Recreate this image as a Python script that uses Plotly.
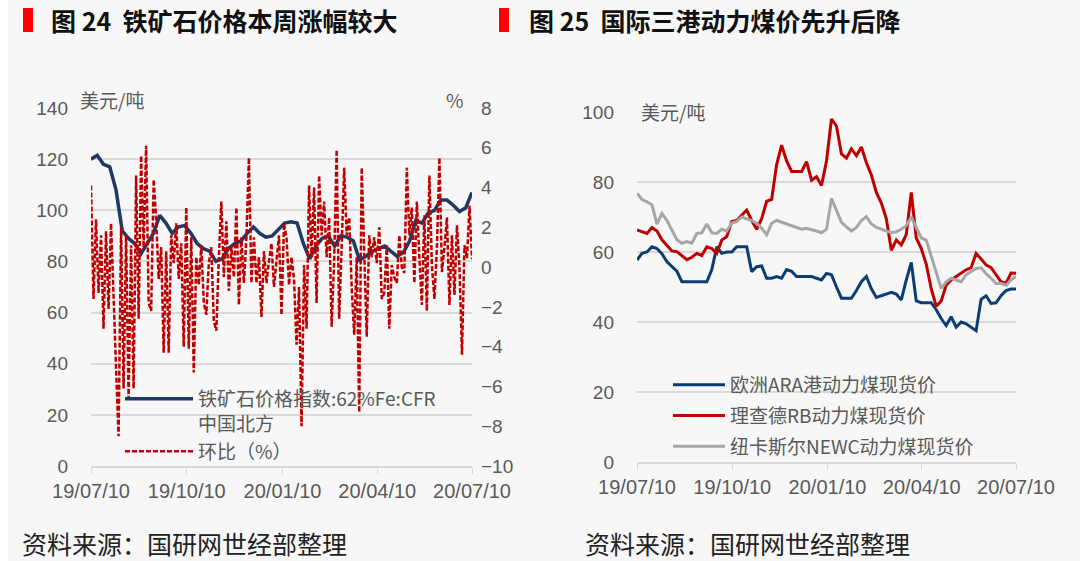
import plotly.graph_objects as go
import pandas as pd

# ---- data: 图24 铁矿石价格 (美元/吨, 左轴) 与 环比 (%, 右轴) ----
iron_price = [120, 121.5, 118, 117, 108, 92, 89, 87, 83, 87,
              91, 98, 95, 91, 93.5, 94, 91, 87, 85, 84,
              80, 81, 85, 87, 88, 91, 93.5, 91, 89.5, 90,
              92.5, 95, 95.5, 95, 87, 81, 86, 89, 90, 86,
              90, 89.5, 88, 80.5, 82, 84, 85, 86, 84, 82,
              83.5, 88, 96, 95, 99, 100, 104, 104, 102, 99.5,
              101, 107]

iron_mom = [4.1, -1.6, 2.4, -1.3, 1.6, -3.1, 1.8, -2.1, 2.2, -1.0,
            -5.1, -8.5, 2.0, -6.1, 1.6, -6.6, 1.1, -6.1, 4.6, -2.6,
            5.6, 1.0, 6.1, -1.8, -2.2, 4.4, 2.4, -0.6, 1.0, -4.3,
            0.8, -4.3, 1.6, 0.2, 2.2, -0.6, 1.2, -4.0, 3.0, -4.1,
            1.5, -5.3, 0.5, -0.9, 1.1, -1.8, -2.4, 0.2, 1.0, -2.7,
            -3.2, 0.5, 3.3, -0.5, 2.3, -1.2, 1.0, -0.5, 3.0, -1.9,
            1.5, -0.8, 1.5, 5.5, -0.8, 1.5, -0.8, 0.5, -2.5, 0.8,
            -0.8, 0.3, 1.2, -1.0, 0.5, 1.6, -2.4, 2.2, 1.5, -0.9,
            0.5, -0.6, -3.9, -1.0, -8.0, 0.1, -3.1, 4.1, 0.5, 4.0,
            -1.8, 4.6, 1.6, 3.3, 0.5, 2.5, -3.0, 0.3, 5.9, -2.6,
            1.0, 5.0, 1.6, 2.5, -1.0, -3.4, 0.5, -7.3, 5.0, 0.0,
            -3.5, 1.6, 0.5, 1.5, 0.2, 2.0, -1.6, -1.3, 1.1, -3.1,
            0.1, -0.5, -0.8, 1.6, 0.0, -0.3, 5.0, 1.6, 3.0, -0.8,
            3.3, 0.5, -1.9, 2.6, -2.2, 4.6, 0.1, -1.6, 1.0, 5.5,
            -0.25, 1.0, 2.5, -1.9, 1.6, -1.4, 2.1, 0.0, -4.4, 1.1,
            0.45, 3.1, 0.4]

# ---- data: 图25 三港动力煤现货价 (美元/吨) ----
coal_ara = [57.7, 59.6, 60.0, 61.5, 61.0, 59.5, 57.2, 55.8, 54.5, 51.5,
            51.5, 51.5, 51.5, 51.5, 51.5, 55.0, 61.5, 59.6, 60.0, 60.0,
            61.5, 61.5, 61.5, 54.4, 55.8, 56.0, 52.5, 52.5, 53.0, 52.5,
            55.0, 54.5, 53.0, 53.0, 53.0, 53.0, 52.5, 52.0, 53.9, 53.5,
            50.0, 46.8, 46.8, 46.8, 49.0, 51.5, 53.0, 49.5, 47.0, 47.5,
            48.2, 48.5, 48.0, 46.3, 52.0, 57.0, 46.0, 45.5, 45.5, 45.5,
            43.5, 41.0, 39.0, 41.5, 38.5, 40.0, 39.5, 38.5, 37.5, 46.5,
            47.5, 45.3, 45.5, 47.5, 49.0, 49.4, 49.4]

coal_rb = [66.3, 65.8, 65.3, 67.0, 66.0, 63.5, 62.0, 60.3, 60.1, 59.0,
           57.8, 58.5, 59.6, 59.0, 61.5, 61.0, 59.6, 63.4, 64.4, 68.7,
           69.0, 70.5, 72.0, 69.0, 66.5, 69.5, 74.5, 75.0, 85.0, 90.5,
           86.0, 83.0, 83.0, 83.0, 85.8, 80.5, 81.5, 79.0, 86.0, 98.0,
           96.0, 88.0, 86.8, 89.5, 87.5, 90.0, 85.5, 82.0, 77.0, 74.0,
           69.5, 60.5, 63.4, 62.0, 65.0, 77.0, 64.0, 61.0, 56.5, 49.5,
           44.5, 46.0, 50.5, 52.0, 53.0, 54.0, 54.9, 55.5, 59.6, 58.0,
           56.3, 55.5, 53.5, 51.5, 51.0, 54.0, 53.9]

coal_newc = [76.8, 75.0, 74.3, 73.5, 68.0, 71.0, 69.0, 66.0, 63.5, 62.5,
             63.0, 62.5, 65.3, 65.5, 68.0, 65.5, 65.3, 66.5, 66.0, 68.3,
             68.7, 70.0, 69.5, 69.0, 68.2, 66.8, 64.9, 68.2, 69.0, 68.5,
             67.8, 67.3, 67.0, 66.5, 66.8, 66.5, 66.0, 65.5, 66.5, 75.3,
             72.0, 68.5, 67.2, 66.0, 67.0, 69.0, 70.1, 68.0, 67.0, 66.5,
             66.0, 65.5, 65.8, 66.5, 67.5, 70.0, 67.0, 64.0, 63.4, 59.0,
             54.0, 49.6, 51.5, 52.5, 52.0, 51.5, 53.5, 54.5, 55.3, 55.5,
             53.8, 52.5, 51.0, 51.0, 50.5, 52.0, 53.0]

start, end = "2019-07-10", "2020-07-10"
tick_dates = ["2019-07-10", "2019-10-10", "2020-01-10", "2020-04-10", "2020-07-10"]

W, H = 1080, 561
BG = "#f7f7f7"
GRID = "#d9d9d9"
TXT = "#595959"
FONT = "Noto Sans CJK SC"
NUMFONT = "Liberation Sans, Arial"


def px_x(x):
    return x / W


def px_y(y):
    return 1 - y / H


fig = go.Figure()

# left chart
fig.add_trace(go.Scatter(
    x=pd.date_range(start, end, periods=len(iron_price)), y=iron_price,
    name="铁矿石价格指数:62%Fe:CFR<br>中国北方", mode="lines",
    line=dict(color="#1f3864", width=3.5),
    xaxis="x", yaxis="y", legend="legend"))
fig.add_trace(go.Scatter(
    x=pd.date_range(start, end, periods=len(iron_mom)), y=iron_mom,
    name="环比（%）", mode="lines",
    line=dict(color="#c00000", width=2.5, dash="5px,2px"),
    xaxis="x", yaxis="y2", legend="legend"))

# right chart
coal_dates = pd.date_range(start, end, periods=len(coal_ara))
for name, vals, col in [("欧洲ARA港动力煤现货价", coal_ara, "#0b3d73"),
                        ("理查德RB动力煤现货价", coal_rb, "#c00000"),
                        ("纽卡斯尔NEWC动力煤现货价", coal_newc, "#a6a6a6")]:
    fig.add_trace(go.Scatter(
        x=coal_dates, y=vals, name=name, mode="lines",
        line=dict(color=col, width=3),
        xaxis="x3", yaxis="y3", legend="legend2", legendgroup=name))

xcommon = dict(type="date", range=[start, end], tickvals=tick_dates,
               tickformat="%y/%m/%d", showgrid=False, showline=True,
               linecolor=GRID, linewidth=1.5, ticks="outside", ticklen=6,
               tickcolor=GRID, tickfont=dict(family=NUMFONT, size=20, color=TXT),
               zeroline=False, automargin=False)
ycommon = dict(showgrid=True, gridcolor=GRID, gridwidth=1.5, zeroline=False,
               showline=False, ticks="", dtick=20, automargin=False,
               tickfont=dict(family=NUMFONT, size=19, color=TXT))

fig.update_layout(
    width=W, height=H,
    margin=dict(l=0, r=0, t=0, b=0, autoexpand=False),
    paper_bgcolor=BG, plot_bgcolor=BG,
    font=dict(family=FONT, color=TXT),
    xaxis=dict(xcommon, domain=[px_x(91), px_x(472)], anchor="y"),
    yaxis=dict(ycommon, domain=[px_y(466), px_y(108)], range=[0, 140],
               ticklabelstandoff=22),
    yaxis2=dict(overlaying="y", side="right", range=[-10, 8], dtick=2,
                showgrid=False, zeroline=False, ticks="", anchor="x",
                ticklabelstandoff=8, automargin=False,
                tickfont=dict(family=NUMFONT, size=19, color=TXT)),
    xaxis3=dict(xcommon, domain=[px_x(637), px_x(1016)], anchor="y3"),
    yaxis3=dict(ycommon, domain=[px_y(462), px_y(112)], range=[0, 100],
                anchor="x3", ticklabelstandoff=22),
    legend=dict(x=px_x(120), y=px_y(380), xanchor="left", yanchor="top",
                bgcolor="rgba(0,0,0,0)", valign="top", tracegroupgap=0,
                itemwidth=68,
                font=dict(family=FONT, size=19, color=TXT)),
    legend2=dict(x=px_x(668), y=px_y(366), xanchor="left", yanchor="top",
                 bgcolor="rgba(0,0,0,0)", tracegroupgap=3, itemwidth=52,
                 font=dict(family=FONT, size=19, color=TXT)),
)

# white strip at the far left, red title markers
fig.add_shape(type="rect", xref="paper", yref="paper",
              x0=0, x1=px_x(8), y0=0, y1=1, fillcolor="#ffffff", line_width=0)
for x0 in (23, 499):
    fig.add_shape(type="rect", xref="paper", yref="paper",
                  x0=px_x(x0), x1=px_x(x0 + 10), y0=px_y(32), y1=px_y(8),
                  fillcolor="#ff0000", line_width=0)

ann = [
    ("图 24  铁矿石价格本周涨幅较大", 49, 20, 25, "#111111", "left", True),
    ("图 25  国际三港动力煤价先升后降", 527, 20, 25, "#111111", "left", True),
    ("美元/吨", 78, 100, 19, TXT, "left", False),
    ("%", 466, 99, 19, TXT, "right", False),
    ("美元/吨", 639, 111, 19, TXT, "left", False),
    ("资料来源：国研网世经部整理", 20, 543, 25, "#222222", "left", False),
    ("资料来源：国研网世经部整理", 583, 543, 25, "#222222", "left", False),
]
for text, x, y, size, col, anchor, bold in ann:
    fig.add_annotation(text=f"<b>{text}</b>" if bold else text,
                       xref="paper", yref="paper", x=px_x(x), y=px_y(y),
                       xanchor=anchor, yanchor="middle", showarrow=False,
                       font=dict(family=FONT, size=size, color=col))

fig.write_html("out.html", config={"displayModeBar": False},
               post_script="document.body.style.margin = '0';")
